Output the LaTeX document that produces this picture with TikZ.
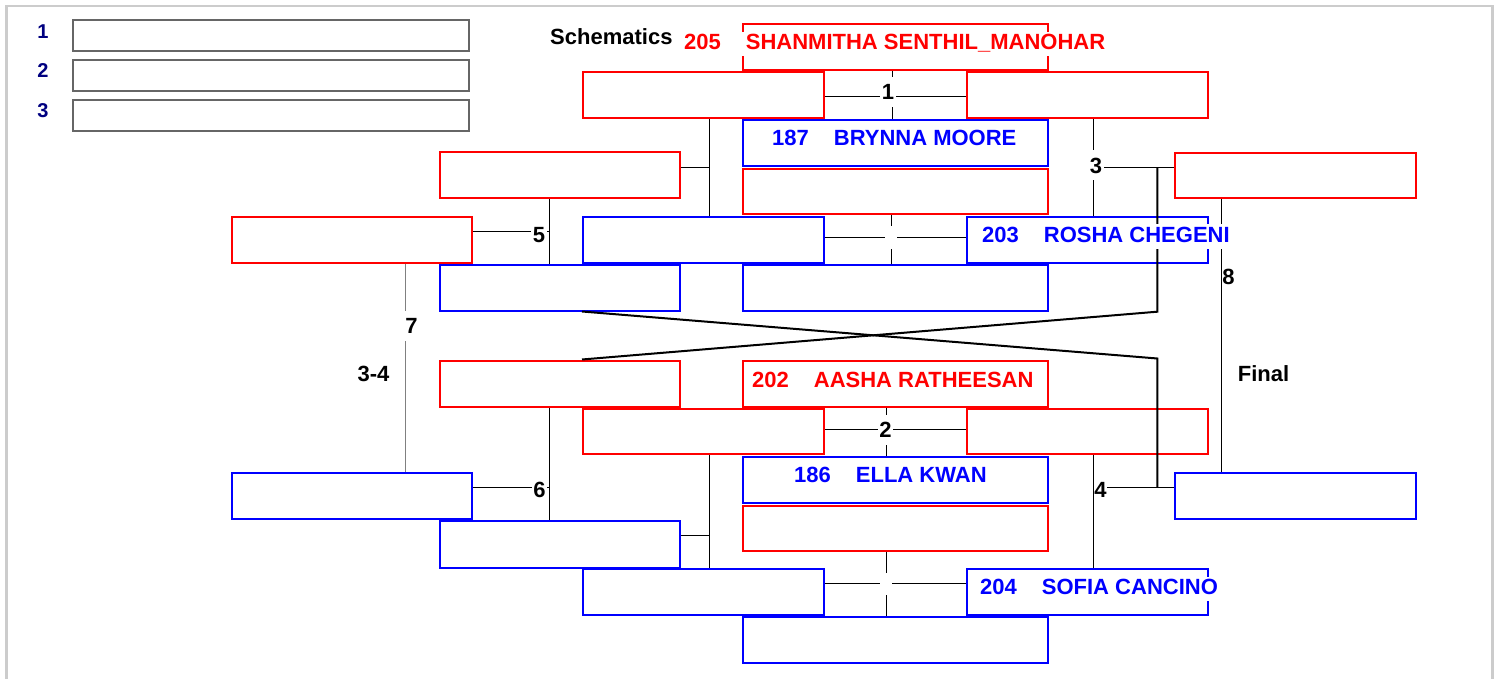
\documentclass[tikz,border=0pt]{standalone}
\usepackage{fontspec}
\setmainfont{Liberation Sans}
\definecolor{navy}{RGB}{0,0,128}
\newcommand\bfnt{\fontsize{22}{26}\selectfont\bfseries}
\newcommand\lgfnt{\fontsize{20}{24}\selectfont\bfseries}
\begin{document}
\begin{tikzpicture}[x=1pt,y=-1pt,
  bx/.style={draw, line width=2pt, inner sep=0pt, anchor=north west, minimum height=46pt},
  rb/.style={bx, draw=red},
  bb/.style={bx, draw=blue},
  lbox/.style={bx, draw=black!60, minimum height=31pt},
  w/.style={minimum width=#1pt},
  hh/.style={minimum height=#1pt},
  ln/.style={line width=1pt, black},
  xl/.style={line width=2pt, black},
  lab/.style={fill=white, font=\bfnt, inner xsep=1.5pt, inner ysep=0pt, text height=15.6pt, text depth=0pt, minimum height=30pt},
  gapbox/.style={fill=white, inner sep=0pt, minimum width=12pt, minimum height=22pt},
  plr/.style={fill=white, font=\bfnt, anchor=base west, inner xsep=0pt, inner ysep=2pt, text height=15.5pt, text depth=4.5pt},
  lgn/.style={font=\lgfnt, text=navy, inner sep=0pt, text height=14.3pt, text depth=0pt},
]
\useasboundingbox (0,0) rectangle (1499,679);
\clip (0,0) rectangle (1499,679);
% frame
\draw[gray!40, line width=2.5pt] (6.5,700) -- (6.5,6) -- (1492.5,6) -- (1492.5,700);

% legend
\node[lbox, w=396] (lg1) at (71.5,19.5) {};
\node[lbox, w=396] (lg2) at (71.5,59.5) {};
\node[lbox, w=396] (lg3) at (71.5,99.5) {};
\node[lgn] (n1) at (43,31.5) {1};
\node[lgn] (n2) at (43,70.5) {2};
\node[lgn] (n3) at (43,110.5) {3};

% boxes upper half
\node[rb,w=305] (rtop) at (742,23.5) {};
\node[rb,w=241] (r1l) at (582,71.5) {};
\node[rb,w=241] (r1r) at (966,71.5) {};
\node[bb,w=305] (b187) at (742,119.5) {};
\node[rb,w=305,hh=45] (r167) at (742,168) {};
\node[rb,w=240] (rl2) at (439,151.5) {};
\node[rb,w=241,hh=45.5] (rr3) at (1174,152) {};
\node[rb,w=240,hh=45] (rl5) at (231,216.5) {};
\node[bb,w=241,hh=45] (bm1l) at (582,216.5) {};
\node[bb,w=241,hh=45.5] (b203) at (966,216) {};
\node[bb,w=240] (bl2b) at (439,263.5) {};
\node[bb,w=305] (bc) at (742,263.5) {};
% boxes lower half
\node[rb,w=240] (rl3) at (439,359.5) {};
\node[rb,w=305] (r202) at (742,359.5) {};
\node[rb,w=241,hh=45.5] (r2l) at (582,407.5) {};
\node[rb,w=241,hh=45.5] (r2r) at (966,407.5) {};
\node[bb,w=305,hh=45.5] (b186) at (742,456) {};
\node[rb,w=305,hh=45] (r503) at (742,504.5) {};
\node[bb,w=240] (bl6) at (231,471.5) {};
\node[bb,w=241] (br4) at (1174,471.5) {};
\node[bb,w=240,hh=47] (bl4b) at (439,519.5) {};
\node[bb,w=241] (bm2l) at (582,567.5) {};
\node[bb,w=241] (b204) at (966,567.5) {};
\node[bb,w=305,hh=45.5] (bbot) at (742,616) {};

% junctions
\coordinate (jA) at (709,167.5);
\coordinate (jB) at (709,535.7);
\coordinate (j5) at (549.3,231.7);
\coordinate (j6) at (549.3,487.7);
\coordinate (j7) at (405.7,0);
\coordinate (j8) at (1221.7,0);
\coordinate (j3) at (1093.3,167.7);
\coordinate (j4) at (1093.3,487.7);
\coordinate (j1) at (892,96.5);
\coordinate (jm) at (891,237.5);
\coordinate (j2) at (886,429.7);
\coordinate (jb) at (886,583.5);
\coordinate (xc) at (1157.3,0);
\coordinate (xa) at (1157.3,358.5);
\coordinate (xb) at (1157.3,311.7);

% connectors
\draw[ln] (rl2.east |- jA) -- (jA);
\draw[ln] (r1l.south -| jA) -- (bm1l.north -| jA);
\draw[ln] (bl4b.east |- jB) -- (jB);
\draw[ln] (r2l.south -| jB) -- (bm2l.north -| jB);
\draw[ln] (rl5.east |- j5) -- (j5);
\draw[ln] (rl2.south -| j5) -- (bl2b.north -| j5);
\draw[ln] (bl6.east |- j6) -- (j6);
\draw[ln] (rl3.south -| j6) -- (bl4b.north -| j6);
\draw[ln, gray] (rl5.south -| j7) -- (bl6.north -| j7);
\draw[ln] (rr3.south -| j8) -- (br4.north -| j8);
\draw[ln] (j3) -- (rr3.west |- j3);
\draw[ln] (r1r.south -| j3) -- (b203.north -| j3);
\draw[ln] (j4) -- (br4.west |- j4);
\draw[ln] (r2r.south -| j4) -- (b204.north -| j4);
\draw[ln] (r1l.east |- j1) -- (r1r.west |- j1);
\draw[ln] (rtop.south -| j1) -- (b187.north -| j1);
\draw[ln] (bm1l.east |- jm) -- (b203.west |- jm);
\draw[ln] (r167.south -| jm) -- (bc.north -| jm);
\draw[ln] (r2l.east |- j2) -- (r2r.west |- j2);
\draw[ln] (r202.south -| j2) -- (b186.north -| j2);
\draw[ln] (bm2l.east |- jb) -- (b204.west |- jb);
\draw[ln] (r503.south -| jb) -- (bbot.north -| jb);
\draw[xl] (bl2b.south -| r1l.west) -- (xa) -- (xc |- j4);
\draw[xl] (rl3.north -| r1l.west) -- (xb) -- (xc |- j3);

% texts
\node[plr, fill=none, text=black] (sch) at (550,45) {Schematics};
\node[plr, text=red] (p205) at (684,50) {205\hspace{25pt}SHANMITHA SENTHIL\_MANOHAR};
\node[plr, text=blue] (p187) at (772,146) {187\hspace{25pt}BRYNNA MOORE};
\node[plr, text=blue] (p203) at (982,242) {203\hspace{25pt}ROSHA CHEGENI};
\node[plr, text=red] (p202) at (752,387) {202\hspace{25pt}AASHA RATHEESAN};
\node[plr, text=blue] (p186) at (794,482) {186\hspace{25pt}ELLA KWAN};
\node[plr, text=blue] (p204) at (980,594) {204\hspace{25pt}SOFIA CANCINO};

% match labels
\node[lab] (l1) at (888,92) {1};
\node[lab] (l2) at (885.5,430) {2};
\node[lab] (l3) at (1096,165.5) {3};
\node[lab, inner xsep=0pt] (l4) at (1100.5,490) {4};
\node[lab] (l5) at (539,234.5) {5};
\node[lab] (l6) at (539.5,490) {6};
\node[lab] (l7) at (411.5,325.5) {7};
\node[lab, inner xsep=0pt] (l8) at (1228.5,277) {8};
\node[lab, fill=none] (l34) at (373.5,374) {3-4};
\node[lab, fill=none] (lfin) at (1263.5,374) {Final};
\node[gapbox] (gm) at (jm) {};
\node[gapbox] (gb) at (jb) {};
\end{tikzpicture}
\end{document}
